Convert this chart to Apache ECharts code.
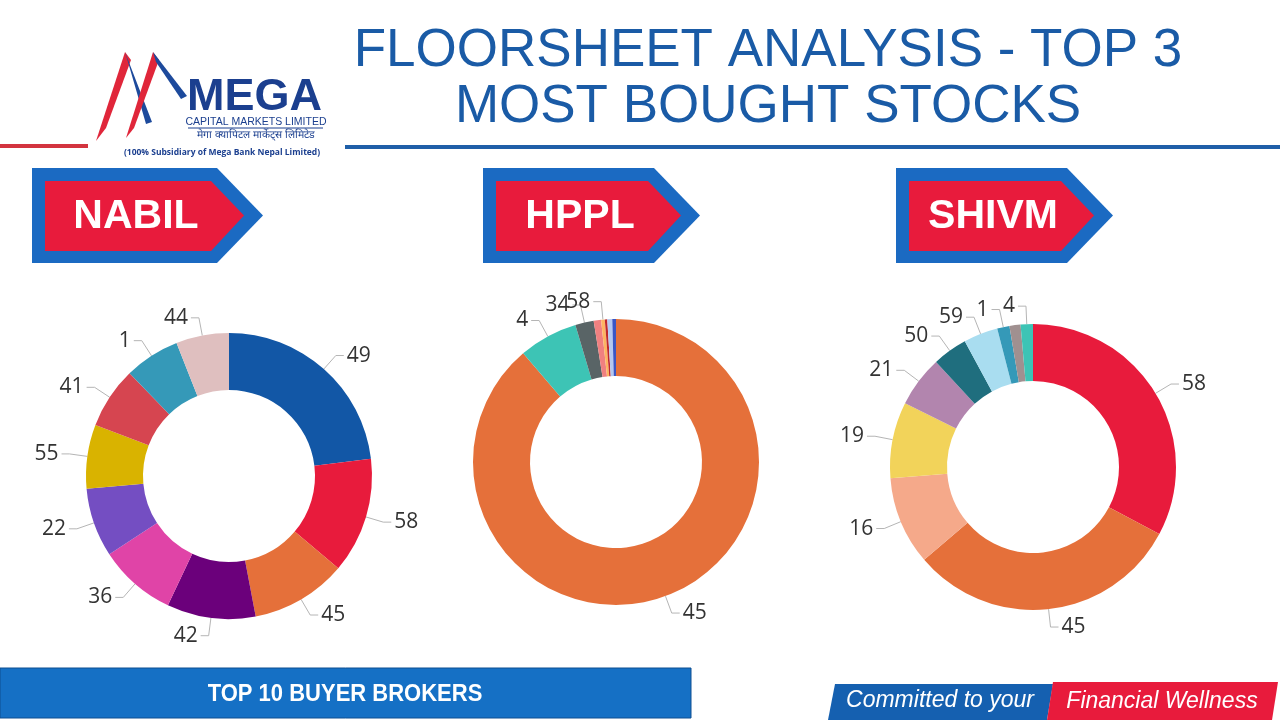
<!DOCTYPE html>
<html>
<head>
<meta charset="utf-8">
<title>Floorsheet Analysis - Top 3 Most Bought Stocks</title>
<script src="https://cdn.jsdelivr.net/npm/echarts@6/dist/echarts.min.js"></script>
<style>
  html, body { margin: 0; padding: 0; background: #fff; }
  #main { width: 1280px; height: 720px; }
</style>
</head>
<body>
<div id="main"></div>
<script>
// broker numbers (slice names) and their share of the ring
var nabilBrokers = ['49', '58', '45', '42', '36', '22', '55', '41', '1', '44'];
var nabilValues = [83, 47, 39, 36, 31.5, 28, 26, 25, 22.5, 21.5];
var nabilColors = ['#1257A6', '#E81B3C', '#E5703A', '#6B007B', '#E044A7', '#744EC2', '#D9B300', '#D64550', '#3599B8', '#DFBFBF'];

// empty name = slice too thin to be labelled
var hpplBrokers = ['45', '4', '34', '', '58', '', '', ''];
var hpplValues = [319.5, 24, 7.5, 3, 1.5, 1, 2, 1.5];
var hpplColors = ['#E5703A', '#3DC4B5', '#596466', '#F08080', '#FDB462', '#C0282D', '#B4C8F0', '#3A56C5'];

var shivmBrokers = ['58', '45', '16', '19', '21', '50', '59', '1', '', '4'];
var shivmValues = [118, 111.6, 36, 31, 20.8, 14.2, 14, 5, 4.5, 5];
var shivmColors = ['#E81B3C', '#E5703A', '#F5A98A', '#F2D35A', '#B285AE', '#1F6E7E', '#A9DDF0', '#3599B8', '#A09090', '#3DC4B5'];

var stockNames = ['NABIL', 'HPPL', 'SHIVM'];

var myChart = echarts.init(document.getElementById('main'));

function donut(names, values, colors, center) {
    var data = names.map(function (n, i) {
        var d = { name: n, value: values[i], itemStyle: { color: colors[i] } };
        if (n === '') {
            d.label = { show: false };
            d.labelLine = { show: false };
        }
        return d;
    });
    return {
        type: 'pie',
        center: center,
        radius: [86, 143],
        startAngle: 90,
        clockwise: true,
        avoidLabelOverlap: false,
        labelLayout: { hideOverlap: false },
        minShowLabelAngle: 0,
        silent: true,
        itemStyle: { borderWidth: 0 },
        label: {
            formatter: '{b}',
            fontSize: 21,
            fontFamily: '"Open Sans", "Noto Sans", sans-serif',
            color: '#333',
            distanceToLabelLine: 3
        },
        labelLine: {
            length: 18,
            length2: 8,
            lineStyle: { color: '#b5b5b5', width: 1 }
        },
        data: data
    };
}

function banner(x, w, text) {
    var top = 168, bot = 263, mid = 215.5;
    return [
        {
            type: 'polygon',
            shape: { points: [[x, top], [x + w - 46, top], [x + w, mid], [x + w - 46, bot], [x, bot]] },
            style: { fill: '#1B6AC2' }
        },
        {
            type: 'polygon',
            shape: { points: [[x + 13, top + 13], [x + w - 52, top + 13], [x + w - 19, mid], [x + w - 52, bot - 12], [x + 13, bot - 12]] },
            style: { fill: '#E81B3C' }
        },
        {
            type: 'text',
            x: x + (w - 19) / 2 - 2,
            y: mid + 1,
            style: {
                text: text,
                fill: '#fff',
                font: 'bold 41px "Liberation Sans", Arial, sans-serif',
                align: 'center',
                verticalAlign: 'middle'
            }
        }
    ];
}

var graphics = [];

// logo mark
graphics.push(
    { type: 'polygon', shape: { points: [[96, 141], [125, 52], [131, 60], [106, 128]] }, style: { fill: '#E0263A' } },
    { type: 'polygon', shape: { points: [[125, 52], [152, 122], [146, 124], [128, 62]] }, style: { fill: '#1D4A9C' } },
    { type: 'polygon', shape: { points: [[126, 138], [153, 52], [159, 60], [134, 128]] }, style: { fill: '#E0263A' } },
    { type: 'polygon', shape: { points: [[153, 52], [187, 96], [181, 99], [156, 62]] }, style: { fill: '#1D4A9C' } },
    {
        type: 'text', x: 187, y: 98,
        style: { text: 'MEGA', fill: '#1B3F8F', font: 'bold 45px "Liberation Sans", Arial, sans-serif', verticalAlign: 'middle' }
    },
    {
        type: 'text', x: 256, y: 122,
        style: { text: 'CAPITAL MARKETS LIMITED', fill: '#1B3F8F', font: '10.5px "Liberation Sans", Arial, sans-serif', align: 'center', verticalAlign: 'middle' }
    },
    { type: 'line', shape: { x1: 188, y1: 128, x2: 323, y2: 128 }, style: { stroke: '#1B3F8F', lineWidth: 1 } },
    {
        type: 'text', x: 256, y: 135,
        style: { text: 'मेगा क्यापिटल मार्केट्स लिमिटेड', fill: '#1B3F8F', font: '10.5px sans-serif', align: 'center', verticalAlign: 'middle' }
    },
    {
        type: 'text', x: 222, y: 153,
        style: { text: '(100% Subsidiary of Mega Bank Nepal Limited)', fill: '#1B3F8F', font: 'bold 8.5px "Open Sans", sans-serif', align: 'center', verticalAlign: 'middle' }
    }
);

// rules under the header
graphics.push(
    { type: 'rect', shape: { x: 0, y: 144, width: 88, height: 4 }, style: { fill: '#D3343F' } },
    { type: 'rect', shape: { x: 345, y: 145, width: 935, height: 4 }, style: { fill: '#1F5FA8' } }
);

// title
graphics.push(
    {
        type: 'text', x: 768, y: 51,
        style: { text: 'FLOORSHEET ANALYSIS - TOP 3', fill: '#1A5BA6', font: '53px "Liberation Sans", Arial, sans-serif', align: 'center', verticalAlign: 'middle' }
    },
    {
        type: 'text', x: 768, y: 107,
        style: { text: 'MOST BOUGHT STOCKS', fill: '#1A5BA6', font: '53px "Liberation Sans", Arial, sans-serif', align: 'center', verticalAlign: 'middle' }
    }
);

// stock banners
graphics = graphics.concat(banner(32, 231, stockNames[0]));
graphics = graphics.concat(banner(483, 217, stockNames[1]));
graphics = graphics.concat(banner(896, 217, stockNames[2]));

// footer
graphics.push(
    { type: 'rect', shape: { x: 0, y: 668, width: 691, height: 50 }, style: { fill: '#1570C5', stroke: '#0E4F91', lineWidth: 1 } },
    {
        type: 'text', x: 345, y: 694, scaleY: 1.12,
        style: { text: 'TOP 10 BUYER BROKERS', fill: '#fff', font: 'bold 22px "Liberation Sans", Arial, sans-serif', align: 'center', verticalAlign: 'middle' }
    },
    { type: 'polygon', shape: { points: [[835, 684], [1053, 684], [1047, 720], [828, 720]] }, style: { fill: '#1560B0' } },
    { type: 'polygon', shape: { points: [[1053, 682], [1278, 682], [1272, 720], [1047, 720]] }, style: { fill: '#E81B3C' } },
    {
        type: 'text', x: 940, y: 701,
        style: { text: 'Committed to your', fill: '#fff', font: 'italic 23px "Liberation Sans", Arial, sans-serif', align: 'center', verticalAlign: 'middle' }
    },
    {
        type: 'text', x: 1162, y: 702,
        style: { text: 'Financial Wellness', fill: '#fff', font: 'italic 23px "Liberation Sans", Arial, sans-serif', align: 'center', verticalAlign: 'middle' }
    }
);

myChart.setOption({
    backgroundColor: '#fff',
    animation: false,
    graphic: graphics,
    series: [
        donut(nabilBrokers, nabilValues, nabilColors, [229, 476]),
        donut(hpplBrokers, hpplValues, hpplColors, [616, 462]),
        donut(shivmBrokers, shivmValues, shivmColors, [1033, 467])
    ]
});

window.addEventListener('resize', function () {
    myChart.resize();
});
</script>
</body>
</html>
